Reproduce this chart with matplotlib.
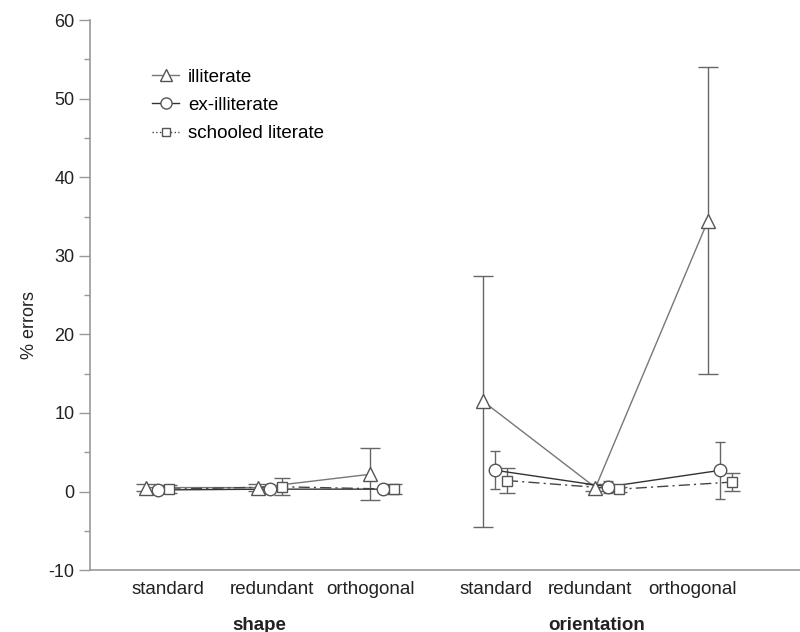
import matplotlib
matplotlib.use('Agg')
import matplotlib.pyplot as plt
from matplotlib.lines import Line2D
from matplotlib.ticker import MultipleLocator

plt.rcParams['font.family'] = ['Liberation Sans', 'DejaVu Sans']
plt.rcParams['axes.unicode_minus'] = False

conditions = ['standard', 'redundant', 'orthogonal', 'standard', 'redundant', 'orthogonal']
groups = ['shape', 'orientation']

illit = [0.5, 0.5, 2.2, 11.5, 0.5, 34.5]
illit_err = [0.4, 0.4, 3.3, 16.0, 0.4, 19.5]
exillit = [0.2, 0.3, 0.3, 2.7, 0.6, 2.7]
exillit_err = [0.2, 0.3, 0.3, 2.4, 0.8, 3.6]
school = [0.3, 0.6, 0.3, 1.4, 0.3, 1.2]
school_err = [0.5, 1.1, 0.6, 1.6, 0.3, 1.15]

pos = [1, 2, 3, 4, 5, 6]
label_pos = [1.09, 2.01, 2.89, 4.0, 4.84, 5.75]
group_pos = [1.9, 4.9]

fig = plt.figure(figsize=(8, 6.32), dpi=100)
ax = fig.add_axes([0.1125, 0.098, 0.8875, 0.87])

series = [
    (illit, illit_err, -0.111, '^', 10, '#777777', '-', '-', 7, 'illiterate'),
    (exillit, exillit_err, 0.0, 'o', 9, '#333333', '-', '-', 3.5, 'ex-illiterate'),
    (school, school_err, 0.102, 's', 7, '#444444', (0, (8, 3, 1.5, 3)), ':', 6,
     'schooled literate'),
]

handles = []
for vals, errs, off, mk, ms, col, ls, leg_ls, cap, name in series:
    xs = [p + off for p in pos]
    ax.errorbar(xs, vals, yerr=errs, fmt='none', ecolor='#666666',
                elinewidth=1, capsize=cap, capthick=1, zorder=2)
    for a, b in [(0, 3), (3, 6)]:
        ax.plot(xs[a:b], vals[a:b], color=col, lw=1, ls=ls, zorder=3)
    ax.plot(xs, vals, ls='none', marker=mk, ms=ms, mfc='white',
            mec='#555555', mew=1, zorder=4)
    handles.append(Line2D([], [], color=col, lw=1, ls=leg_ls, marker=mk, ms=ms - 1,
                          mfc='white', mec='#555555', mew=1, label=name))

ax.set_xlim(0.3956, 6.707)
ax.set_ylim(-10, 60)
ax.yaxis.set_major_locator(MultipleLocator(10))
ax.yaxis.set_minor_locator(MultipleLocator(5))

for s in ['top', 'right']:
    ax.spines[s].set_visible(False)
for s in ['left', 'bottom']:
    ax.spines[s].set_color('#999999')
    ax.spines[s].set_linewidth(1.2)

ax.tick_params(axis='y', which='major', direction='out', length=8, width=1,
               color='#999999', labelsize=13, labelcolor='#222222', pad=3)
ax.tick_params(axis='y', which='minor', direction='out', length=4, width=1,
               color='#999999')
ax.set_xticks(label_pos)
ax.set_xticklabels(conditions)
ax.tick_params(axis='x', length=0, labelsize=13.5, labelcolor='#222222', pad=8)

for g, gp in zip(groups, group_pos):
    ax.text(gp, -0.1, g, transform=ax.get_xaxis_transform(), ha='center',
            va='center', fontsize=13.5, fontweight='bold', color='#222222')

fig.text(30 / 800, 1 - 325 / 632, '% errors', rotation=90, ha='center',
         va='center', fontsize=13, color='#222222')

ax.legend(handles=handles, loc='upper left', bbox_to_anchor=(143 / 800, 1 - 59 / 632),
          bbox_transform=fig.transFigure, frameon=False, fontsize=13.5,
          handlelength=1.4, handletextpad=0.5, labelspacing=0.6, borderpad=0)

fig.savefig('out.png', dpi=100)
